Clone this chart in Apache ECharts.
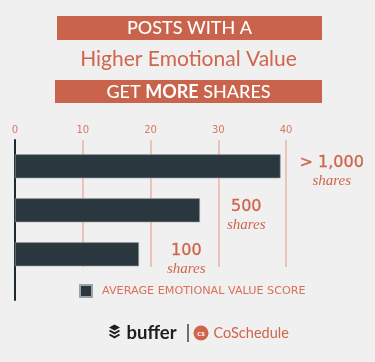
<!DOCTYPE html>
<html>
<head>
<meta charset="utf-8">
<script src="https://cdn.jsdelivr.net/npm/echarts@6/dist/echarts.min.js"></script>
<style>
html,body{margin:0;padding:0;background:#f0f0f0;}
#c{width:375px;height:362px;}
</style>
</head>
<body>
<div id="c"></div>
<script>
// Data
const categories = ['> 1,000', '500', '100'];
const shareUnit = 'shares';
const scores = [39.2, 27.3, 18.3];
const seriesName = 'AVERAGE EMOTIONAL VALUE SCORE';
const axisMin = 0, axisMax = 40, axisStep = 10;
const titleLine1 = 'POSTS WITH A';
const titleLine2 = 'Higher Emotional Value';
const titleLine3 = ['GET ', 'MORE', ' SHARES'];

const ORANGE = '#c9634b';
const TXT = '#cf654c';
const BAR = '#2b373e';
const labelGaps = [19, 27, 28];

const chart = echarts.init(document.getElementById('c'), null, {renderer: 'canvas'});

const option = {
  backgroundColor: '#f0f0f0',
  animation: false,
  grid: [
    {left: 15, right: 89, top: 144.3, height: 132},
    {left: 15, right: 89, top: 140, height: 127},
    {left: 15, right: 89, top: 140, height: 160}
  ],
  xAxis: [
    {gridIndex: 0, type: 'value', min: axisMin, max: axisMax, interval: axisStep, show: false},
    {gridIndex: 1, type: 'value', min: axisMin, max: axisMax, interval: axisStep, position: 'top',
      axisLine: {show: false}, axisTick: {show: false},
      axisLabel: {color: '#d97760', fontSize: 10, fontFamily: 'DejaVu Sans', margin: 5},
      splitLine: {show: true, lineStyle: {color: '#eab5a8', width: 1.5}}},
    {gridIndex: 2, type: 'value', min: axisMin, max: axisMax, show: false}
  ],
  yAxis: [
    {gridIndex: 0, type: 'category', data: categories, inverse: true, show: false},
    {gridIndex: 1, type: 'value', show: false},
    {gridIndex: 2, type: 'value', axisLine: {show: true, lineStyle: {color: '#1f2a30', width: 2}},
      axisTick: {show: false}, axisLabel: {show: false}, splitLine: {show: false}}
  ],
  legend: {
    left: 79, top: 284, padding: 0, itemWidth: 12, itemHeight: 12, icon: 'rect',
    data: [seriesName],
    textStyle: {color: '#d9705a', fontSize: 11.2, fontFamily: 'DejaVu Sans', padding: [0, 0, 0, 5]}
  },
  series: [{
    name: seriesName,
    type: 'bar',
    xAxisIndex: 0, yAxisIndex: 0,
    barWidth: 24,
    itemStyle: {color: BAR, borderColor: '#9aa3a8', borderWidth: 0.6},
    data: scores.map((v, i) => ({
      value: v,
      label: {
        show: true, position: 'right', distance: labelGaps[i], offset: [0, 6],
        formatter: '{a|' + categories[i] + '}\n{b|' + shareUnit + '}',
        rich: {
          a: {fontSize: 16, fontFamily: 'DejaVu Sans', color: TXT, align: 'center', lineHeight: 17,
              textBorderColor: TXT, textBorderWidth: 0.3},
          b: {fontSize: 15, fontStyle: 'italic', fontFamily: 'Liberation Serif', color: TXT, align: 'center', lineHeight: 18}
        }
      }
    }))
  }],
  graphic: [
    {type: 'rect', shape: {x: 57, y: 16, width: 265, height: 24}, style: {fill: ORANGE}},
    {type: 'text', x: 189.5, y: 28.5, style: {text: titleLine1, fill: '#fff', font: '500 18px Lato', align: 'center', verticalAlign: 'middle'}},
    {type: 'text', x: 188.5, y: 59, style: {text: titleLine2, fill: TXT, font: '21px Lato', align: 'center', verticalAlign: 'middle'}},
    {type: 'rect', shape: {x: 55, y: 80, width: 267, height: 23}, style: {fill: ORANGE}},
    {type: 'text', x: 188.5, y: 92, style: {
      text: '{n|' + titleLine3[0] + '}{m|' + titleLine3[1] + '}{n|' + titleLine3[2] + '}',
      align: 'center', verticalAlign: 'middle',
      rich: {n: {fill: '#fff', font: '500 18px Lato'}, m: {fill: '#fff', font: 'bold 18px Lato'}}
    }},
    // buffer logo
    {type: 'polygon', shape: {points: [[114.5, 324.5], [120, 327.5], [114.5, 330.5], [109, 327.5]]}, style: {fill: '#1e1e1e'}},
    {type: 'polyline', shape: {points: [[109.5, 330.5], [114.5, 333.3], [119.5, 330.5]]}, style: {stroke: '#1e1e1e', lineWidth: 2, fill: null}},
    {type: 'polyline', shape: {points: [[109.5, 334.5], [114.5, 337.3], [119.5, 334.5]]}, style: {stroke: '#1e1e1e', lineWidth: 2, fill: null}},
    {type: 'text', x: 126.5, y: 333, style: {text: 'buffer', fill: '#1e1e1e', font: 'bold 18.5px Lato', verticalAlign: 'middle'}},
    {type: 'line', shape: {x1: 188, y1: 324, x2: 188, y2: 342}, style: {stroke: '#444', lineWidth: 1.5}},
    {type: 'circle', shape: {cx: 201, cy: 333, r: 7.5}, style: {fill: '#d0654b'}},
    {type: 'text', x: 201, y: 333, style: {text: 'cs', fill: '#fff', font: 'bold 8px Lato', align: 'center', verticalAlign: 'middle'}},
    {type: 'text', x: 213.5, y: 333, style: {text: 'CoSchedule', fill: TXT, font: '14.5px Lato', verticalAlign: 'middle'}}
  ]
};
chart.setOption(option);
</script>
</body>
</html>
